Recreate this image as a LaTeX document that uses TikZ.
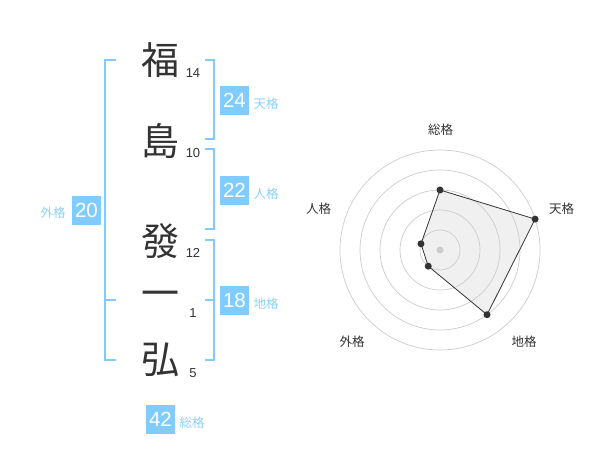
\documentclass[tikz,border=0pt]{standalone}
\usepackage{fontspec}
\setmainfont{Liberation Sans}
\newfontfamily\cjk{Noto Sans CJK JP}
\definecolor{kakublue}{HTML}{80CCFF}
\definecolor{kakulabel}{HTML}{8CD0F8}
\definecolor{ink}{HTML}{333333}
\tikzset{
  kanji/.style={font=\cjk\fontsize{38}{38}\selectfont, text=ink, inner sep=0pt},
  strokes/.style={font=\fontsize{13}{13}\selectfont, text=ink, inner sep=0pt},
  kakubox/.style={fill=kakublue, text=white, font=\fontsize{20.5}{20.5}\selectfont, minimum size=29pt, inner sep=0pt},
  kakuname/.style={font=\cjk\fontsize{12.5}{12.5}\selectfont, text=kakulabel, inner sep=0pt},
  bracket/.style={draw=kakublue, line width=2pt},
  axisname/.style={font=\cjk\fontsize{12.5}{12.5}\selectfont, text=ink, inner sep=0pt},
  ring/.style={draw=black!20, line width=0.7pt},
  dot/.style={circle, fill=ink, inner sep=0pt, minimum size=7pt}
}
\begin{document}
\begin{tikzpicture}[x=1pt, y=-1pt]
   \useasboundingbox (0, 0) rectangle (600, 470);
   % name column
   \node[kanji] (fuku) at (160, 60) {福};
   \node[kanji] (shima) at (160, 141) {島};
   \node[kanji] (hatsu) at (160, 241) {發};
   \node[kanji] (ichi) at (160, 299) {一};
   \node[kanji] (hiro) at (160, 360) {弘};
   \node[strokes] (nfuku) at (193, 73) {14};
   \node[strokes] (nshima) at (193, 153) {10};
   \node[strokes] (nhatsu) at (193, 253) {12};
   \node[strokes] (nichi) at (193, 313) {1};
   \node[strokes] (nhiro) at (193, 373) {5};
   % brackets
   \draw[bracket] (116, 60) -- (105, 60) -- (105, 360) -- (116, 360);
   \draw[bracket] (105, 300) -- (116, 300);
   \draw[bracket] (205, 60) -- (214, 60) -- (214, 139) -- (205, 139);
   \draw[bracket] (205, 149) -- (214, 149) -- (214, 229) -- (205, 229);
   \draw[bracket] (205, 240) -- (214, 240) -- (214, 360) -- (205, 360);
   \draw[bracket] (214, 300) -- (205, 300);
   % scores
   \node[kakubox] (ten) at (234.5, 100.5) {24};
   \node[kakuname] at (266, 104) {天格};
   \node[kakubox] (jin) at (234.5, 190.5) {22};
   \node[kakuname] at (266, 194) {人格};
   \node[kakubox] (gai) at (86.5, 210.5) {20};
   \node[kakuname] at (53, 213) {外格};
   \node[kakubox] (chi) at (234.5, 300.5) {18};
   \node[kakuname] at (266, 304) {地格};
   \node[kakubox] (sou) at (160.5, 419) {42};
   \node[kakuname] at (192, 423) {総格};
   % radar
   \begin{scope}[shift={(440, 250)}, y=1pt]
     \coordinate (rsou) at (90:60);
     \coordinate (rten) at (18:100);
     \coordinate (rchi) at (-54:80);
     \coordinate (rgai) at (-126:20);
     \coordinate (rjin) at (162:20);
     \fill[black!6] (rsou) -- (rten) -- (rchi) -- (rgai) -- (rjin) -- cycle;
     \foreach \r in {20, 40, ..., 100}
       \draw[ring] (0, 0) circle (\r);
     \fill[black!20] (0, 0) circle (3.5);
     \draw[ink, line width=0.8pt]
       (rsou) -- (rten) -- (rchi) -- (rgai) -- (rjin) -- cycle;
     \foreach \p in {rsou, rten, rchi, rgai, rjin}
       \node[dot] at (\p) {};
     \node[axisname] at (0.5, 120) {総格};
     \node[axisname] at (121.5, 41.5) {天格};
     \node[axisname] at (-121.5, 41.5) {人格};
     \node[axisname] at (-88, -91.5) {外格};
     \node[axisname] at (84, -91.5) {地格};
   \end{scope}
\end{tikzpicture}
\end{document}
